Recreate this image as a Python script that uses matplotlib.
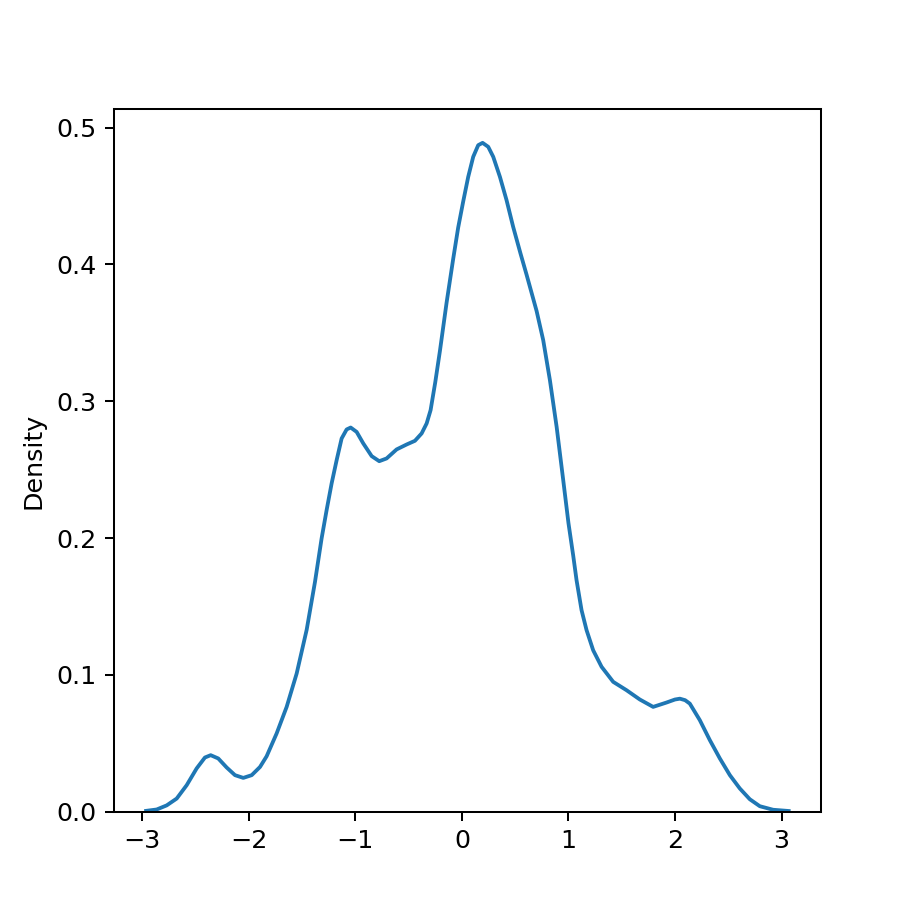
import matplotlib
matplotlib.use("Agg")
import matplotlib.pyplot as plt

# KDE curve (x value, density)
x_vals = [-2.964, -2.865, -2.771, -2.677, -2.583, -2.490, -2.412, -2.358, -2.287,
          -2.208, -2.130, -2.052, -1.973, -1.895, -1.833, -1.739, -1.645, -1.551,
          -1.457, -1.379, -1.317, -1.270, -1.223, -1.176, -1.129, -1.082, -1.044,
          -0.988, -0.926, -0.847, -0.776, -0.707, -0.613, -0.519, -0.441, -0.378,
          -0.331, -0.294, -0.250, -0.206, -0.144, -0.082, -0.035, 0.012, 0.059,
          0.106, 0.153, 0.194, 0.247, 0.294, 0.357, 0.419, 0.481, 0.550, 0.607,
          0.701, 0.763, 0.826, 0.889, 0.951, 1.000, 1.045, 1.076, 1.123, 1.170,
          1.232, 1.311, 1.420, 1.545, 1.670, 1.795, 1.921, 2.000, 2.046, 2.095,
          2.139, 2.233, 2.327, 2.421, 2.515, 2.608, 2.702, 2.796, 2.921, 3.067]
density = [0.0006, 0.0016, 0.0046, 0.0096, 0.0194, 0.0316, 0.0396, 0.0413, 0.0389,
           0.0323, 0.0267, 0.0247, 0.0267, 0.0327, 0.0405, 0.0572, 0.0766, 0.1010,
           0.1330, 0.1680, 0.1997, 0.2204, 0.2399, 0.2569, 0.2728, 0.2794, 0.2808,
           0.2776, 0.2692, 0.2599, 0.2562, 0.2582, 0.2648, 0.2684, 0.2711, 0.2765,
           0.2838, 0.2935, 0.3140, 0.3370, 0.3720, 0.4040, 0.4270, 0.4460, 0.4640,
           0.4787, 0.4872, 0.4889, 0.4860, 0.4787, 0.4640, 0.4470, 0.4275, 0.4080,
           0.3925, 0.3660, 0.3447, 0.3154, 0.2813, 0.2423, 0.2110, 0.1870, 0.1692,
           0.1473, 0.1327, 0.1180, 0.1059, 0.0949, 0.0888, 0.0820, 0.0766, 0.0798,
           0.0820, 0.0826, 0.0815, 0.0790, 0.0669, 0.0523, 0.0389, 0.0267, 0.0170,
           0.0091, 0.0040, 0.0014, 0.0005]

fig, ax = plt.subplots(figsize=(5, 5), dpi=182.4)
ax.plot(x_vals, density, color="#1f77b4", linewidth=1.5)
ax.set_ylim(bottom=0)
ax.set_ylabel("Density")
fig.savefig("out.png")
